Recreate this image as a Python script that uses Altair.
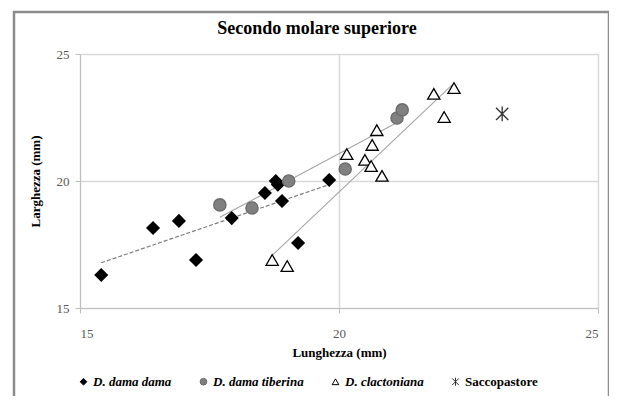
import altair as alt
import pandas as pd

# D. dama dama (diamonds)
dd_x = [15.41, 16.41, 16.91, 17.24, 17.93, 18.57, 18.78, 18.82, 18.90, 19.21, 19.81]
dd_y = [16.30, 18.15, 18.43, 16.89, 18.54, 19.53, 20.00, 19.85, 19.21, 17.56, 20.04]
# D. dama tiberina (grey circles)
dt_x = [17.70, 18.32, 19.03, 20.12, 21.12, 21.22]
dt_y = [19.06, 18.94, 20.00, 20.47, 22.48, 22.80]
# D. clactoniana (open triangles)
dc_x = [18.71, 19.00, 20.15, 20.50, 20.62, 20.64, 20.73, 20.83, 21.83, 22.22, 22.03]
dc_y = [16.89, 16.65, 21.06, 20.83, 20.59, 21.42, 22.00, 20.20, 23.43, 23.66, 22.52]
# Saccopastore
sp_x = [23.15]
sp_y = [22.64]

cats = ["D. dama dama", "D. dama tiberina", "D. clactoniana", "Saccopastore"]
ticks = [15, 20, 25]

rows = []
for name, xs, ys in zip(cats, [dd_x, dt_x, dc_x, sp_x], [dd_y, dt_y, dc_y, sp_y]):
    for a, b in zip(xs, ys):
        rows.append({"x": a, "y": b, "group": name})
df = pd.DataFrame(rows)

SERIF = "Liberation Serif"
star = "M-1,-1L1,1M-1,1L1,-1M0,-1.2L0,1.2"

xs = alt.Scale(domain=[15, 25], nice=False, zero=False)
ys = alt.Scale(domain=[15, 25], nice=False, zero=False)

x_enc = alt.X("x:Q", scale=xs, axis=alt.Axis(values=ticks, title="Lunghezza (mm)",
                                              labelPadding=14, titlePadding=6))
y_enc = alt.Y("y:Q", scale=ys, axis=alt.Axis(values=ticks, title="Larghezza (mm)",
                                              labelPadding=6, titlePadding=14))

leg = alt.Legend(title=None, orient="none", legendX=-3, legendY=321, direction="horizontal",
                 columns=4, columnPadding=25, symbolSize=45, symbolStrokeWidth=1,
                 labelFont=SERIF, labelFontSize=13, labelFontWeight="bold", labelColor="#000000",
                 labelFontStyle=alt.ExprRef("datum.label == 'Saccopastore' ? 'normal' : 'italic'"),
                 labelOffset=3)

shape_scale = alt.Scale(domain=cats, range=["diamond", "circle", "triangle-up", star])
fill_scale = alt.Scale(domain=cats, range=["#000000", "#808080", "#ffffff", "#000000"])
stroke_scale = alt.Scale(domain=cats, range=["#000000", "#6a6a6a", "#000000", "#333333"])

base = alt.Chart(df)

reg_dd = base.transform_filter(alt.datum.group == "D. dama dama").transform_regression(
    "x", "y").mark_line(color="#7f7f7f", strokeWidth=1.2, strokeDash=[4, 2]).encode(x=x_enc, y=y_enc)
reg_dt = base.transform_filter(alt.datum.group == "D. dama tiberina").transform_regression(
    "x", "y").mark_line(color="#a6a6a6", strokeWidth=1.1).encode(x=x_enc, y=y_enc)
reg_dc = base.transform_filter(alt.datum.group == "D. clactoniana").transform_regression(
    "x", "y").mark_line(color="#a6a6a6", strokeWidth=1.1).encode(x=x_enc, y=y_enc)

points = base.mark_point(filled=True, opacity=1, size=150, strokeWidth=1.3).encode(
    x=x_enc, y=y_enc,
    shape=alt.Shape("group:N", scale=shape_scale, legend=leg),
    fill=alt.Fill("group:N", scale=fill_scale, legend=leg),
    stroke=alt.Stroke("group:N", scale=stroke_scale, legend=leg),
)

frame = alt.Chart(pd.DataFrame({"a": [0]})).mark_rect(
    fill=None, stroke="#8c8c8c", strokeWidth=2.5).encode(
    x=alt.value(-66), x2=alt.value(529), y=alt.value(-42), y2=alt.value(420))

chart = alt.layer(frame, reg_dd, reg_dt, reg_dc, points).properties(
    width=518, height=254,
    padding={"left": 72, "top": 46, "right": 11, "bottom": 88},
    autosize=alt.AutoSizeParams(type="none"),
    title=alt.TitleParams("Secondo molare superiore", font=SERIF, fontSize=18,
                          fontWeight="bold", anchor="middle", dx=-22, offset=-27, color="#000000"),
    background="white",
).configure_view(stroke=None).configure_axis(
    grid=True, gridColor="#d9d9d9", gridWidth=1.5,
    domainColor="#bfbfbf", tickColor="#bfbfbf", tickSize=5,
    labelFont=SERIF, labelFontSize=13, labelColor="#595959",
    titleFont=SERIF, titleFontSize=13, titleFontWeight="bold", titleColor="#000000",
)

chart.save("out.html", embed_options={"renderer": "svg", "actions": False})
